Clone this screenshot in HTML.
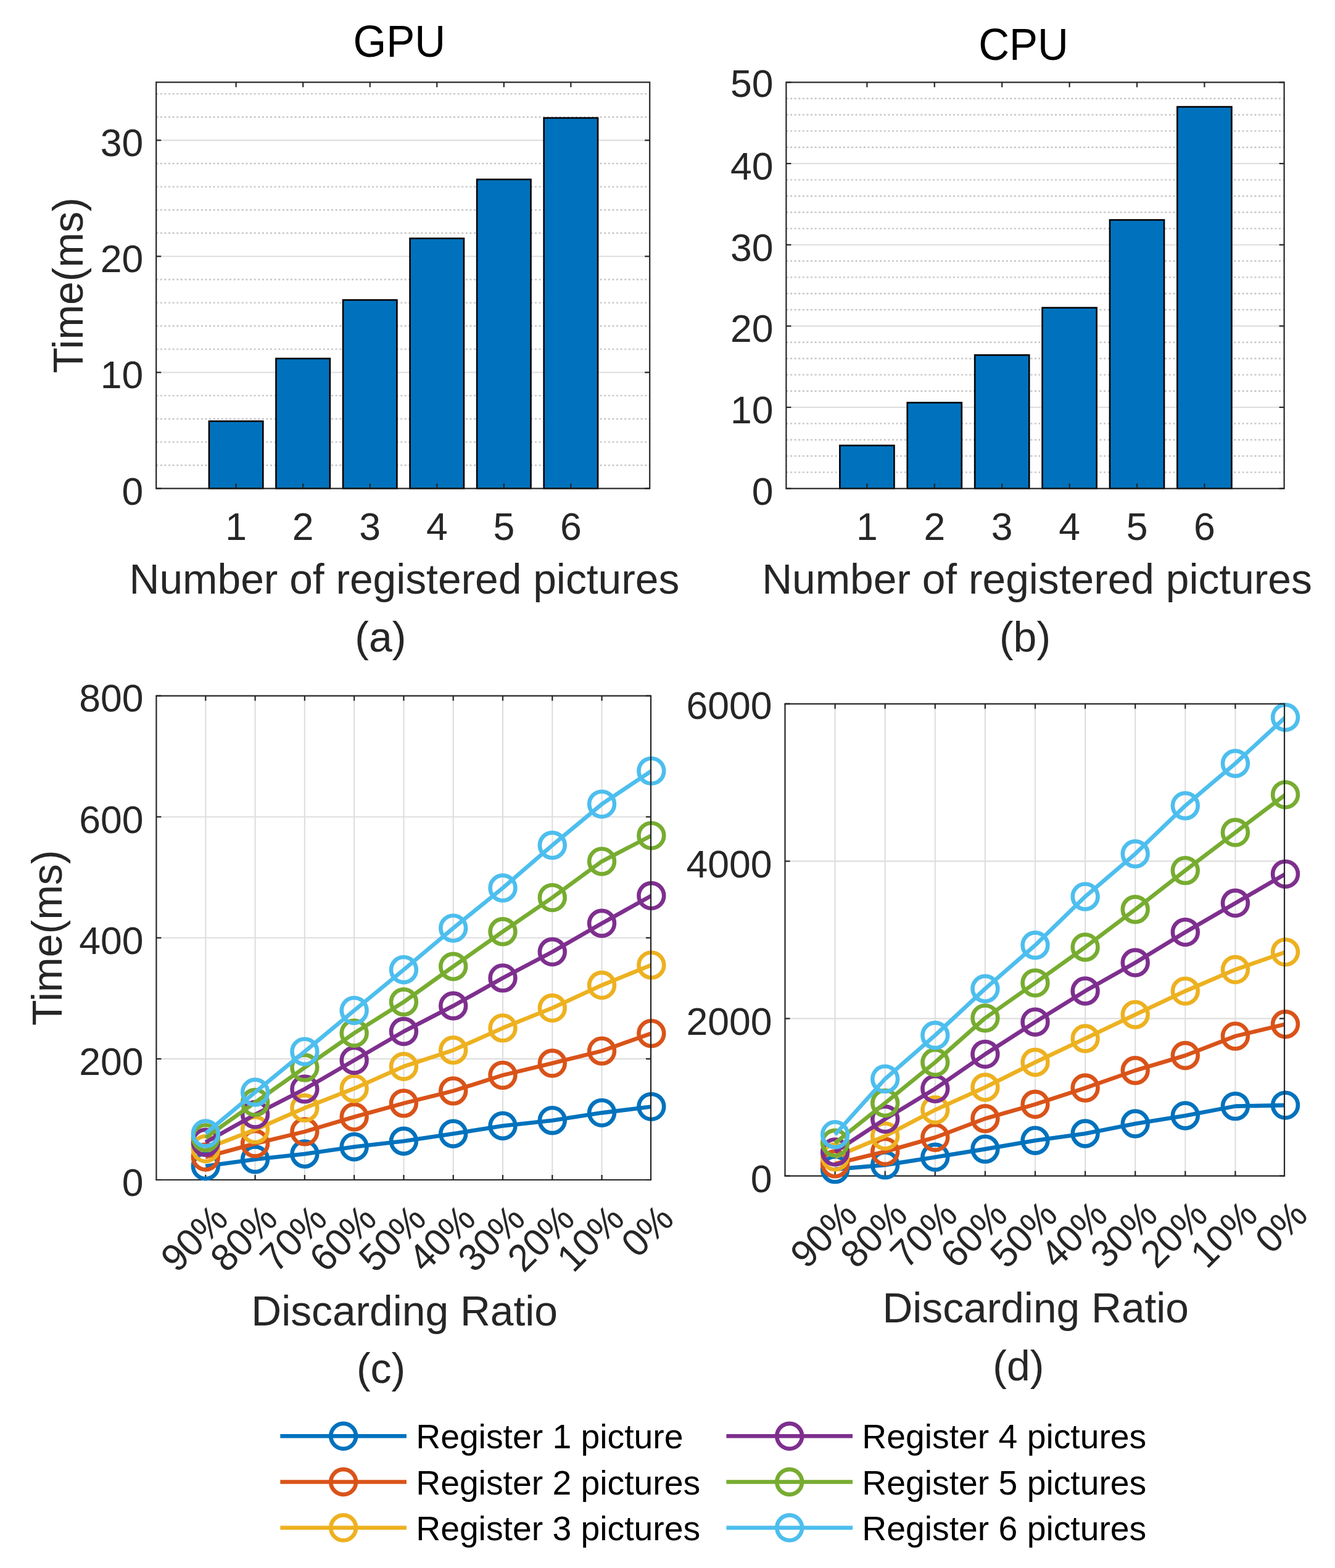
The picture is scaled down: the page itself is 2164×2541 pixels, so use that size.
<!DOCTYPE html>
<html><head><meta charset="utf-8"><title>Figure</title>
<style>
html,body{margin:0;padding:0;background:#fff;}
body{width:2164px;height:2541px;overflow:hidden;}
svg{display:block;}
text{font-family:'Liberation Sans', sans-serif;}
</style></head>
<body>
<svg width="2164" height="2541" viewBox="0 0 2164 2541">
<rect x="0" y="0" width="2164" height="2541" fill="#fff"/>
<line x1="253.2" y1="753.98" x2="1053.2" y2="753.98" stroke="#c6c6c6" stroke-width="2.4" stroke-dasharray="3 3.6"/>
<line x1="253.2" y1="716.37" x2="1053.2" y2="716.37" stroke="#c6c6c6" stroke-width="2.4" stroke-dasharray="3 3.6"/>
<line x1="253.2" y1="678.75" x2="1053.2" y2="678.75" stroke="#c6c6c6" stroke-width="2.4" stroke-dasharray="3 3.6"/>
<line x1="253.2" y1="641.13" x2="1053.2" y2="641.13" stroke="#c6c6c6" stroke-width="2.4" stroke-dasharray="3 3.6"/>
<line x1="253.2" y1="565.9" x2="1053.2" y2="565.9" stroke="#c6c6c6" stroke-width="2.4" stroke-dasharray="3 3.6"/>
<line x1="253.2" y1="528.28" x2="1053.2" y2="528.28" stroke="#c6c6c6" stroke-width="2.4" stroke-dasharray="3 3.6"/>
<line x1="253.2" y1="490.66" x2="1053.2" y2="490.66" stroke="#c6c6c6" stroke-width="2.4" stroke-dasharray="3 3.6"/>
<line x1="253.2" y1="453.05" x2="1053.2" y2="453.05" stroke="#c6c6c6" stroke-width="2.4" stroke-dasharray="3 3.6"/>
<line x1="253.2" y1="377.81" x2="1053.2" y2="377.81" stroke="#c6c6c6" stroke-width="2.4" stroke-dasharray="3 3.6"/>
<line x1="253.2" y1="340.19" x2="1053.2" y2="340.19" stroke="#c6c6c6" stroke-width="2.4" stroke-dasharray="3 3.6"/>
<line x1="253.2" y1="302.58" x2="1053.2" y2="302.58" stroke="#c6c6c6" stroke-width="2.4" stroke-dasharray="3 3.6"/>
<line x1="253.2" y1="264.96" x2="1053.2" y2="264.96" stroke="#c6c6c6" stroke-width="2.4" stroke-dasharray="3 3.6"/>
<line x1="253.2" y1="189.73" x2="1053.2" y2="189.73" stroke="#c6c6c6" stroke-width="2.4" stroke-dasharray="3 3.6"/>
<line x1="253.2" y1="152.11" x2="1053.2" y2="152.11" stroke="#c6c6c6" stroke-width="2.4" stroke-dasharray="3 3.6"/>
<line x1="253.2" y1="603.51" x2="1053.2" y2="603.51" stroke="#dedede" stroke-width="2.1"/>
<line x1="253.2" y1="415.43" x2="1053.2" y2="415.43" stroke="#dedede" stroke-width="2.1"/>
<line x1="253.2" y1="227.34" x2="1053.2" y2="227.34" stroke="#dedede" stroke-width="2.1"/>
<rect x="338.91" y="682.6" width="87.38" height="109" fill="#0072BD" stroke="#000" stroke-width="2.6"/>
<rect x="447.46" y="581" width="87.38" height="210.6" fill="#0072BD" stroke="#000" stroke-width="2.6"/>
<rect x="556.01" y="486.1" width="87.38" height="305.5" fill="#0072BD" stroke="#000" stroke-width="2.6"/>
<rect x="664.56" y="386.3" width="87.38" height="405.3" fill="#0072BD" stroke="#000" stroke-width="2.6"/>
<rect x="773.11" y="290.8" width="87.38" height="500.8" fill="#0072BD" stroke="#000" stroke-width="2.6"/>
<rect x="881.66" y="191.1" width="87.38" height="600.5" fill="#0072BD" stroke="#000" stroke-width="2.6"/>
<rect x="253.2" y="133.3" width="800" height="658.3" fill="none" stroke="#262626" stroke-width="2.2"/>
<line x1="382.6" y1="791.6" x2="382.6" y2="783.6" stroke="#262626" stroke-width="2.2"/>
<line x1="382.6" y1="133.3" x2="382.6" y2="141.3" stroke="#262626" stroke-width="2.2"/>
<line x1="491.15" y1="791.6" x2="491.15" y2="783.6" stroke="#262626" stroke-width="2.2"/>
<line x1="491.15" y1="133.3" x2="491.15" y2="141.3" stroke="#262626" stroke-width="2.2"/>
<line x1="599.7" y1="791.6" x2="599.7" y2="783.6" stroke="#262626" stroke-width="2.2"/>
<line x1="599.7" y1="133.3" x2="599.7" y2="141.3" stroke="#262626" stroke-width="2.2"/>
<line x1="708.25" y1="791.6" x2="708.25" y2="783.6" stroke="#262626" stroke-width="2.2"/>
<line x1="708.25" y1="133.3" x2="708.25" y2="141.3" stroke="#262626" stroke-width="2.2"/>
<line x1="816.8" y1="791.6" x2="816.8" y2="783.6" stroke="#262626" stroke-width="2.2"/>
<line x1="816.8" y1="133.3" x2="816.8" y2="141.3" stroke="#262626" stroke-width="2.2"/>
<line x1="925.35" y1="791.6" x2="925.35" y2="783.6" stroke="#262626" stroke-width="2.2"/>
<line x1="925.35" y1="133.3" x2="925.35" y2="141.3" stroke="#262626" stroke-width="2.2"/>
<line x1="253.2" y1="791.6" x2="261.2" y2="791.6" stroke="#262626" stroke-width="2.2"/>
<line x1="1053.2" y1="791.6" x2="1045.2" y2="791.6" stroke="#262626" stroke-width="2.2"/>
<line x1="253.2" y1="603.51" x2="261.2" y2="603.51" stroke="#262626" stroke-width="2.2"/>
<line x1="1053.2" y1="603.51" x2="1045.2" y2="603.51" stroke="#262626" stroke-width="2.2"/>
<line x1="253.2" y1="415.43" x2="261.2" y2="415.43" stroke="#262626" stroke-width="2.2"/>
<line x1="1053.2" y1="415.43" x2="1045.2" y2="415.43" stroke="#262626" stroke-width="2.2"/>
<line x1="253.2" y1="227.34" x2="261.2" y2="227.34" stroke="#262626" stroke-width="2.2"/>
<line x1="1053.2" y1="227.34" x2="1045.2" y2="227.34" stroke="#262626" stroke-width="2.2"/>
<text x="0" y="0" font-size="62.5" text-anchor="end" fill="#262626" transform="translate(232.2 817.5) scale(1 1.02)">0</text>
<text x="0" y="0" font-size="62.5" text-anchor="end" fill="#262626" transform="translate(232.2 629.41) scale(1 1.02)">10</text>
<text x="0" y="0" font-size="62.5" text-anchor="end" fill="#262626" transform="translate(232.2 441.33) scale(1 1.02)">20</text>
<text x="0" y="0" font-size="62.5" text-anchor="end" fill="#262626" transform="translate(232.2 253.24) scale(1 1.02)">30</text>
<text x="0" y="0" font-size="62.5" text-anchor="middle" fill="#262626" transform="translate(382.6 875) scale(1 1.02)">1</text>
<text x="0" y="0" font-size="62.5" text-anchor="middle" fill="#262626" transform="translate(491.15 875) scale(1 1.02)">2</text>
<text x="0" y="0" font-size="62.5" text-anchor="middle" fill="#262626" transform="translate(599.7 875) scale(1 1.02)">3</text>
<text x="0" y="0" font-size="62.5" text-anchor="middle" fill="#262626" transform="translate(708.25 875) scale(1 1.02)">4</text>
<text x="0" y="0" font-size="62.5" text-anchor="middle" fill="#262626" transform="translate(816.8 875) scale(1 1.02)">5</text>
<text x="0" y="0" font-size="62.5" text-anchor="middle" fill="#262626" transform="translate(925.35 875) scale(1 1.02)">6</text>
<text x="0" y="0" font-size="69" text-anchor="middle" fill="#000" transform="translate(647.3 91.7) scale(1 1.04)">GPU</text>
<text x="0" y="0" font-size="67.7" text-anchor="middle" fill="#262626" transform="translate(655.4 961.5) scale(1 1.02)">Number of registered pictures</text>
<text x="0" y="0" font-size="68" text-anchor="middle" fill="#262626" transform="translate(616.9 1055.5) scale(1 1.02)">(a)</text>
<text x="0" y="0" font-size="68" text-anchor="middle" fill="#262626" transform="translate(133.8 462.45) rotate(-90) scale(1 1.02)">Time(ms)</text>
<line x1="1274.4" y1="765.37" x2="2081.6" y2="765.37" stroke="#c6c6c6" stroke-width="2.4" stroke-dasharray="3 3.6"/>
<line x1="1274.4" y1="739.04" x2="2081.6" y2="739.04" stroke="#c6c6c6" stroke-width="2.4" stroke-dasharray="3 3.6"/>
<line x1="1274.4" y1="712.7" x2="2081.6" y2="712.7" stroke="#c6c6c6" stroke-width="2.4" stroke-dasharray="3 3.6"/>
<line x1="1274.4" y1="686.37" x2="2081.6" y2="686.37" stroke="#c6c6c6" stroke-width="2.4" stroke-dasharray="3 3.6"/>
<line x1="1274.4" y1="633.71" x2="2081.6" y2="633.71" stroke="#c6c6c6" stroke-width="2.4" stroke-dasharray="3 3.6"/>
<line x1="1274.4" y1="607.38" x2="2081.6" y2="607.38" stroke="#c6c6c6" stroke-width="2.4" stroke-dasharray="3 3.6"/>
<line x1="1274.4" y1="581.04" x2="2081.6" y2="581.04" stroke="#c6c6c6" stroke-width="2.4" stroke-dasharray="3 3.6"/>
<line x1="1274.4" y1="554.71" x2="2081.6" y2="554.71" stroke="#c6c6c6" stroke-width="2.4" stroke-dasharray="3 3.6"/>
<line x1="1274.4" y1="502.05" x2="2081.6" y2="502.05" stroke="#c6c6c6" stroke-width="2.4" stroke-dasharray="3 3.6"/>
<line x1="1274.4" y1="475.72" x2="2081.6" y2="475.72" stroke="#c6c6c6" stroke-width="2.4" stroke-dasharray="3 3.6"/>
<line x1="1274.4" y1="449.38" x2="2081.6" y2="449.38" stroke="#c6c6c6" stroke-width="2.4" stroke-dasharray="3 3.6"/>
<line x1="1274.4" y1="423.05" x2="2081.6" y2="423.05" stroke="#c6c6c6" stroke-width="2.4" stroke-dasharray="3 3.6"/>
<line x1="1274.4" y1="370.39" x2="2081.6" y2="370.39" stroke="#c6c6c6" stroke-width="2.4" stroke-dasharray="3 3.6"/>
<line x1="1274.4" y1="344.06" x2="2081.6" y2="344.06" stroke="#c6c6c6" stroke-width="2.4" stroke-dasharray="3 3.6"/>
<line x1="1274.4" y1="317.72" x2="2081.6" y2="317.72" stroke="#c6c6c6" stroke-width="2.4" stroke-dasharray="3 3.6"/>
<line x1="1274.4" y1="291.39" x2="2081.6" y2="291.39" stroke="#c6c6c6" stroke-width="2.4" stroke-dasharray="3 3.6"/>
<line x1="1274.4" y1="238.73" x2="2081.6" y2="238.73" stroke="#c6c6c6" stroke-width="2.4" stroke-dasharray="3 3.6"/>
<line x1="1274.4" y1="212.4" x2="2081.6" y2="212.4" stroke="#c6c6c6" stroke-width="2.4" stroke-dasharray="3 3.6"/>
<line x1="1274.4" y1="186.06" x2="2081.6" y2="186.06" stroke="#c6c6c6" stroke-width="2.4" stroke-dasharray="3 3.6"/>
<line x1="1274.4" y1="159.73" x2="2081.6" y2="159.73" stroke="#c6c6c6" stroke-width="2.4" stroke-dasharray="3 3.6"/>
<line x1="1274.4" y1="660.04" x2="2081.6" y2="660.04" stroke="#dedede" stroke-width="2.1"/>
<line x1="1274.4" y1="528.38" x2="2081.6" y2="528.38" stroke="#dedede" stroke-width="2.1"/>
<line x1="1274.4" y1="396.72" x2="2081.6" y2="396.72" stroke="#dedede" stroke-width="2.1"/>
<line x1="1274.4" y1="265.06" x2="2081.6" y2="265.06" stroke="#dedede" stroke-width="2.1"/>
<rect x="1361.37" y="721.9" width="88.07" height="69.8" fill="#0072BD" stroke="#000" stroke-width="2.6"/>
<rect x="1470.77" y="652.5" width="88.07" height="139.2" fill="#0072BD" stroke="#000" stroke-width="2.6"/>
<rect x="1580.17" y="575.4" width="88.07" height="216.3" fill="#0072BD" stroke="#000" stroke-width="2.6"/>
<rect x="1689.57" y="498.7" width="88.07" height="293" fill="#0072BD" stroke="#000" stroke-width="2.6"/>
<rect x="1798.97" y="356.4" width="88.07" height="435.3" fill="#0072BD" stroke="#000" stroke-width="2.6"/>
<rect x="1908.37" y="173.1" width="88.07" height="618.6" fill="#0072BD" stroke="#000" stroke-width="2.6"/>
<rect x="1274.4" y="133.4" width="807.2" height="658.3" fill="none" stroke="#262626" stroke-width="2.2"/>
<line x1="1405.4" y1="791.7" x2="1405.4" y2="783.7" stroke="#262626" stroke-width="2.2"/>
<line x1="1405.4" y1="133.4" x2="1405.4" y2="141.4" stroke="#262626" stroke-width="2.2"/>
<line x1="1514.8" y1="791.7" x2="1514.8" y2="783.7" stroke="#262626" stroke-width="2.2"/>
<line x1="1514.8" y1="133.4" x2="1514.8" y2="141.4" stroke="#262626" stroke-width="2.2"/>
<line x1="1624.2" y1="791.7" x2="1624.2" y2="783.7" stroke="#262626" stroke-width="2.2"/>
<line x1="1624.2" y1="133.4" x2="1624.2" y2="141.4" stroke="#262626" stroke-width="2.2"/>
<line x1="1733.6" y1="791.7" x2="1733.6" y2="783.7" stroke="#262626" stroke-width="2.2"/>
<line x1="1733.6" y1="133.4" x2="1733.6" y2="141.4" stroke="#262626" stroke-width="2.2"/>
<line x1="1843" y1="791.7" x2="1843" y2="783.7" stroke="#262626" stroke-width="2.2"/>
<line x1="1843" y1="133.4" x2="1843" y2="141.4" stroke="#262626" stroke-width="2.2"/>
<line x1="1952.4" y1="791.7" x2="1952.4" y2="783.7" stroke="#262626" stroke-width="2.2"/>
<line x1="1952.4" y1="133.4" x2="1952.4" y2="141.4" stroke="#262626" stroke-width="2.2"/>
<line x1="1274.4" y1="791.7" x2="1282.4" y2="791.7" stroke="#262626" stroke-width="2.2"/>
<line x1="2081.6" y1="791.7" x2="2073.6" y2="791.7" stroke="#262626" stroke-width="2.2"/>
<line x1="1274.4" y1="660.04" x2="1282.4" y2="660.04" stroke="#262626" stroke-width="2.2"/>
<line x1="2081.6" y1="660.04" x2="2073.6" y2="660.04" stroke="#262626" stroke-width="2.2"/>
<line x1="1274.4" y1="528.38" x2="1282.4" y2="528.38" stroke="#262626" stroke-width="2.2"/>
<line x1="2081.6" y1="528.38" x2="2073.6" y2="528.38" stroke="#262626" stroke-width="2.2"/>
<line x1="1274.4" y1="396.72" x2="1282.4" y2="396.72" stroke="#262626" stroke-width="2.2"/>
<line x1="2081.6" y1="396.72" x2="2073.6" y2="396.72" stroke="#262626" stroke-width="2.2"/>
<line x1="1274.4" y1="265.06" x2="1282.4" y2="265.06" stroke="#262626" stroke-width="2.2"/>
<line x1="2081.6" y1="265.06" x2="2073.6" y2="265.06" stroke="#262626" stroke-width="2.2"/>
<line x1="1274.4" y1="133.4" x2="1282.4" y2="133.4" stroke="#262626" stroke-width="2.2"/>
<line x1="2081.6" y1="133.4" x2="2073.6" y2="133.4" stroke="#262626" stroke-width="2.2"/>
<text x="0" y="0" font-size="62.5" text-anchor="end" fill="#262626" transform="translate(1253.4 817.6) scale(1 1.02)">0</text>
<text x="0" y="0" font-size="62.5" text-anchor="end" fill="#262626" transform="translate(1253.4 685.94) scale(1 1.02)">10</text>
<text x="0" y="0" font-size="62.5" text-anchor="end" fill="#262626" transform="translate(1253.4 554.28) scale(1 1.02)">20</text>
<text x="0" y="0" font-size="62.5" text-anchor="end" fill="#262626" transform="translate(1253.4 422.62) scale(1 1.02)">30</text>
<text x="0" y="0" font-size="62.5" text-anchor="end" fill="#262626" transform="translate(1253.4 290.96) scale(1 1.02)">40</text>
<text x="0" y="0" font-size="62.5" text-anchor="end" fill="#262626" transform="translate(1253.4 157) scale(1 1.02)">50</text>
<text x="0" y="0" font-size="62.5" text-anchor="middle" fill="#262626" transform="translate(1405.4 875) scale(1 1.02)">1</text>
<text x="0" y="0" font-size="62.5" text-anchor="middle" fill="#262626" transform="translate(1514.8 875) scale(1 1.02)">2</text>
<text x="0" y="0" font-size="62.5" text-anchor="middle" fill="#262626" transform="translate(1624.2 875) scale(1 1.02)">3</text>
<text x="0" y="0" font-size="62.5" text-anchor="middle" fill="#262626" transform="translate(1733.6 875) scale(1 1.02)">4</text>
<text x="0" y="0" font-size="62.5" text-anchor="middle" fill="#262626" transform="translate(1843 875) scale(1 1.02)">5</text>
<text x="0" y="0" font-size="62.5" text-anchor="middle" fill="#262626" transform="translate(1952.4 875) scale(1 1.02)">6</text>
<text x="0" y="0" font-size="69" text-anchor="middle" fill="#000" transform="translate(1659 96.7) scale(1 1.04)">CPU</text>
<text x="0" y="0" font-size="67.7" text-anchor="middle" fill="#262626" transform="translate(1681 962.2) scale(1 1.02)">Number of registered pictures</text>
<text x="0" y="0" font-size="68" text-anchor="middle" fill="#262626" transform="translate(1661.5 1056) scale(1 1.02)">(b)</text>
<line x1="333.3" y1="1127.6" x2="333.3" y2="1912" stroke="#dedede" stroke-width="2.1"/>
<line x1="413.58" y1="1127.6" x2="413.58" y2="1912" stroke="#dedede" stroke-width="2.1"/>
<line x1="493.86" y1="1127.6" x2="493.86" y2="1912" stroke="#dedede" stroke-width="2.1"/>
<line x1="574.14" y1="1127.6" x2="574.14" y2="1912" stroke="#dedede" stroke-width="2.1"/>
<line x1="654.42" y1="1127.6" x2="654.42" y2="1912" stroke="#dedede" stroke-width="2.1"/>
<line x1="734.7" y1="1127.6" x2="734.7" y2="1912" stroke="#dedede" stroke-width="2.1"/>
<line x1="814.98" y1="1127.6" x2="814.98" y2="1912" stroke="#dedede" stroke-width="2.1"/>
<line x1="895.26" y1="1127.6" x2="895.26" y2="1912" stroke="#dedede" stroke-width="2.1"/>
<line x1="975.54" y1="1127.6" x2="975.54" y2="1912" stroke="#dedede" stroke-width="2.1"/>
<line x1="253.4" y1="1715.9" x2="1055" y2="1715.9" stroke="#dedede" stroke-width="2.1"/>
<line x1="253.4" y1="1519.8" x2="1055" y2="1519.8" stroke="#dedede" stroke-width="2.1"/>
<line x1="253.4" y1="1323.7" x2="1055" y2="1323.7" stroke="#dedede" stroke-width="2.1"/>
<line x1="252.3" y1="1912" x2="1056.1" y2="1912" stroke="#262626" stroke-width="2.2"/>
<line x1="253.4" y1="1127.6" x2="253.4" y2="1912" stroke="#262626" stroke-width="2.2"/>
<line x1="333.3" y1="1912" x2="333.3" y2="1904" stroke="#262626" stroke-width="2.2"/>
<line x1="333.3" y1="1127.6" x2="333.3" y2="1135.6" stroke="#262626" stroke-width="2.2"/>
<line x1="413.58" y1="1912" x2="413.58" y2="1904" stroke="#262626" stroke-width="2.2"/>
<line x1="413.58" y1="1127.6" x2="413.58" y2="1135.6" stroke="#262626" stroke-width="2.2"/>
<line x1="493.86" y1="1912" x2="493.86" y2="1904" stroke="#262626" stroke-width="2.2"/>
<line x1="493.86" y1="1127.6" x2="493.86" y2="1135.6" stroke="#262626" stroke-width="2.2"/>
<line x1="574.14" y1="1912" x2="574.14" y2="1904" stroke="#262626" stroke-width="2.2"/>
<line x1="574.14" y1="1127.6" x2="574.14" y2="1135.6" stroke="#262626" stroke-width="2.2"/>
<line x1="654.42" y1="1912" x2="654.42" y2="1904" stroke="#262626" stroke-width="2.2"/>
<line x1="654.42" y1="1127.6" x2="654.42" y2="1135.6" stroke="#262626" stroke-width="2.2"/>
<line x1="734.7" y1="1912" x2="734.7" y2="1904" stroke="#262626" stroke-width="2.2"/>
<line x1="734.7" y1="1127.6" x2="734.7" y2="1135.6" stroke="#262626" stroke-width="2.2"/>
<line x1="814.98" y1="1912" x2="814.98" y2="1904" stroke="#262626" stroke-width="2.2"/>
<line x1="814.98" y1="1127.6" x2="814.98" y2="1135.6" stroke="#262626" stroke-width="2.2"/>
<line x1="895.26" y1="1912" x2="895.26" y2="1904" stroke="#262626" stroke-width="2.2"/>
<line x1="895.26" y1="1127.6" x2="895.26" y2="1135.6" stroke="#262626" stroke-width="2.2"/>
<line x1="975.54" y1="1912" x2="975.54" y2="1904" stroke="#262626" stroke-width="2.2"/>
<line x1="975.54" y1="1127.6" x2="975.54" y2="1135.6" stroke="#262626" stroke-width="2.2"/>
<line x1="253.4" y1="1912" x2="261.4" y2="1912" stroke="#262626" stroke-width="2.2"/>
<line x1="1055" y1="1912" x2="1047" y2="1912" stroke="#262626" stroke-width="2.2"/>
<line x1="253.4" y1="1715.9" x2="261.4" y2="1715.9" stroke="#262626" stroke-width="2.2"/>
<line x1="1055" y1="1715.9" x2="1047" y2="1715.9" stroke="#262626" stroke-width="2.2"/>
<line x1="253.4" y1="1519.8" x2="261.4" y2="1519.8" stroke="#262626" stroke-width="2.2"/>
<line x1="1055" y1="1519.8" x2="1047" y2="1519.8" stroke="#262626" stroke-width="2.2"/>
<line x1="253.4" y1="1323.7" x2="261.4" y2="1323.7" stroke="#262626" stroke-width="2.2"/>
<line x1="1055" y1="1323.7" x2="1047" y2="1323.7" stroke="#262626" stroke-width="2.2"/>
<line x1="253.4" y1="1127.6" x2="261.4" y2="1127.6" stroke="#262626" stroke-width="2.2"/>
<line x1="1055" y1="1127.6" x2="1047" y2="1127.6" stroke="#262626" stroke-width="2.2"/>
<defs><clipPath id="cc"><rect x="253.4" y="1127.6" width="801.6" height="784.4"/></clipPath></defs>
<polyline points="333.3,1889.74 413.58,1878.76 493.86,1870.03 574.14,1858.46 654.42,1849.25 734.7,1837.19 814.98,1824.44 895.26,1815.71 975.54,1803.36 1055.82,1793.36" fill="none" stroke="#0072BD" stroke-width="6.6" stroke-linejoin="round" clip-path="url(#cc)"/>
<circle cx="333.3" cy="1889.74" r="20.4" fill="none" stroke="#0072BD" stroke-width="6.6"/>
<circle cx="413.58" cy="1878.76" r="20.4" fill="none" stroke="#0072BD" stroke-width="6.6"/>
<circle cx="493.86" cy="1870.03" r="20.4" fill="none" stroke="#0072BD" stroke-width="6.6"/>
<circle cx="574.14" cy="1858.46" r="20.4" fill="none" stroke="#0072BD" stroke-width="6.6"/>
<circle cx="654.42" cy="1849.25" r="20.4" fill="none" stroke="#0072BD" stroke-width="6.6"/>
<circle cx="734.7" cy="1837.19" r="20.4" fill="none" stroke="#0072BD" stroke-width="6.6"/>
<circle cx="814.98" cy="1824.44" r="20.4" fill="none" stroke="#0072BD" stroke-width="6.6"/>
<circle cx="895.26" cy="1815.71" r="20.4" fill="none" stroke="#0072BD" stroke-width="6.6"/>
<circle cx="975.54" cy="1803.36" r="20.4" fill="none" stroke="#0072BD" stroke-width="6.6"/>
<circle cx="1055.82" cy="1793.36" r="20.4" fill="none" stroke="#0072BD" stroke-width="6.6"/>
<polyline points="333.3,1874.94 413.58,1853.27 493.86,1833.85 574.14,1810.03 654.42,1787.87 734.7,1767.87 814.98,1742.37 895.26,1723.06 975.54,1703.15 1055.82,1674.72" fill="none" stroke="#D95319" stroke-width="6.6" stroke-linejoin="round" clip-path="url(#cc)"/>
<circle cx="333.3" cy="1874.94" r="20.4" fill="none" stroke="#D95319" stroke-width="6.6"/>
<circle cx="413.58" cy="1853.27" r="20.4" fill="none" stroke="#D95319" stroke-width="6.6"/>
<circle cx="493.86" cy="1833.85" r="20.4" fill="none" stroke="#D95319" stroke-width="6.6"/>
<circle cx="574.14" cy="1810.03" r="20.4" fill="none" stroke="#D95319" stroke-width="6.6"/>
<circle cx="654.42" cy="1787.87" r="20.4" fill="none" stroke="#D95319" stroke-width="6.6"/>
<circle cx="734.7" cy="1767.87" r="20.4" fill="none" stroke="#D95319" stroke-width="6.6"/>
<circle cx="814.98" cy="1742.37" r="20.4" fill="none" stroke="#D95319" stroke-width="6.6"/>
<circle cx="895.26" cy="1723.06" r="20.4" fill="none" stroke="#D95319" stroke-width="6.6"/>
<circle cx="975.54" cy="1703.15" r="20.4" fill="none" stroke="#D95319" stroke-width="6.6"/>
<circle cx="1055.82" cy="1674.72" r="20.4" fill="none" stroke="#D95319" stroke-width="6.6"/>
<polyline points="333.3,1861.6 413.58,1830.62 493.86,1795.42 574.14,1763.94 654.42,1728.25 734.7,1701.78 814.98,1665.89 895.26,1633.54 975.54,1596.57 1055.82,1563.92" fill="none" stroke="#EDB120" stroke-width="6.6" stroke-linejoin="round" clip-path="url(#cc)"/>
<circle cx="333.3" cy="1861.6" r="20.4" fill="none" stroke="#EDB120" stroke-width="6.6"/>
<circle cx="413.58" cy="1830.62" r="20.4" fill="none" stroke="#EDB120" stroke-width="6.6"/>
<circle cx="493.86" cy="1795.42" r="20.4" fill="none" stroke="#EDB120" stroke-width="6.6"/>
<circle cx="574.14" cy="1763.94" r="20.4" fill="none" stroke="#EDB120" stroke-width="6.6"/>
<circle cx="654.42" cy="1728.25" r="20.4" fill="none" stroke="#EDB120" stroke-width="6.6"/>
<circle cx="734.7" cy="1701.78" r="20.4" fill="none" stroke="#EDB120" stroke-width="6.6"/>
<circle cx="814.98" cy="1665.89" r="20.4" fill="none" stroke="#EDB120" stroke-width="6.6"/>
<circle cx="895.26" cy="1633.54" r="20.4" fill="none" stroke="#EDB120" stroke-width="6.6"/>
<circle cx="975.54" cy="1596.57" r="20.4" fill="none" stroke="#EDB120" stroke-width="6.6"/>
<circle cx="1055.82" cy="1563.92" r="20.4" fill="none" stroke="#EDB120" stroke-width="6.6"/>
<polyline points="333.3,1851.21 413.58,1806.11 493.86,1764.92 574.14,1718.25 654.42,1671.48 734.7,1630.01 814.98,1584.91 895.26,1542.55 975.54,1496.27 1055.82,1451.56" fill="none" stroke="#7E2F8E" stroke-width="6.6" stroke-linejoin="round" clip-path="url(#cc)"/>
<circle cx="333.3" cy="1851.21" r="20.4" fill="none" stroke="#7E2F8E" stroke-width="6.6"/>
<circle cx="413.58" cy="1806.11" r="20.4" fill="none" stroke="#7E2F8E" stroke-width="6.6"/>
<circle cx="493.86" cy="1764.92" r="20.4" fill="none" stroke="#7E2F8E" stroke-width="6.6"/>
<circle cx="574.14" cy="1718.25" r="20.4" fill="none" stroke="#7E2F8E" stroke-width="6.6"/>
<circle cx="654.42" cy="1671.48" r="20.4" fill="none" stroke="#7E2F8E" stroke-width="6.6"/>
<circle cx="734.7" cy="1630.01" r="20.4" fill="none" stroke="#7E2F8E" stroke-width="6.6"/>
<circle cx="814.98" cy="1584.91" r="20.4" fill="none" stroke="#7E2F8E" stroke-width="6.6"/>
<circle cx="895.26" cy="1542.55" r="20.4" fill="none" stroke="#7E2F8E" stroke-width="6.6"/>
<circle cx="975.54" cy="1496.27" r="20.4" fill="none" stroke="#7E2F8E" stroke-width="6.6"/>
<circle cx="1055.82" cy="1451.56" r="20.4" fill="none" stroke="#7E2F8E" stroke-width="6.6"/>
<polyline points="333.3,1843.66 413.58,1786.5 493.86,1730.02 574.14,1674.23 654.42,1623.73 734.7,1566.28 814.98,1509.8 895.26,1454.6 975.54,1395.96 1055.82,1354.1" fill="none" stroke="#77AC30" stroke-width="6.6" stroke-linejoin="round" clip-path="url(#cc)"/>
<circle cx="333.3" cy="1843.66" r="20.4" fill="none" stroke="#77AC30" stroke-width="6.6"/>
<circle cx="413.58" cy="1786.5" r="20.4" fill="none" stroke="#77AC30" stroke-width="6.6"/>
<circle cx="493.86" cy="1730.02" r="20.4" fill="none" stroke="#77AC30" stroke-width="6.6"/>
<circle cx="574.14" cy="1674.23" r="20.4" fill="none" stroke="#77AC30" stroke-width="6.6"/>
<circle cx="654.42" cy="1623.73" r="20.4" fill="none" stroke="#77AC30" stroke-width="6.6"/>
<circle cx="734.7" cy="1566.28" r="20.4" fill="none" stroke="#77AC30" stroke-width="6.6"/>
<circle cx="814.98" cy="1509.8" r="20.4" fill="none" stroke="#77AC30" stroke-width="6.6"/>
<circle cx="895.26" cy="1454.6" r="20.4" fill="none" stroke="#77AC30" stroke-width="6.6"/>
<circle cx="975.54" cy="1395.96" r="20.4" fill="none" stroke="#77AC30" stroke-width="6.6"/>
<circle cx="1055.82" cy="1354.1" r="20.4" fill="none" stroke="#77AC30" stroke-width="6.6"/>
<polyline points="333.3,1836.89 413.58,1770.02 493.86,1704.13 574.14,1637.46 654.42,1571.47 734.7,1504.11 814.98,1439.01 895.26,1369.78 975.54,1303.11 1055.82,1249.38" fill="none" stroke="#4DBEEE" stroke-width="6.6" stroke-linejoin="round" clip-path="url(#cc)"/>
<circle cx="333.3" cy="1836.89" r="20.4" fill="none" stroke="#4DBEEE" stroke-width="6.6"/>
<circle cx="413.58" cy="1770.02" r="20.4" fill="none" stroke="#4DBEEE" stroke-width="6.6"/>
<circle cx="493.86" cy="1704.13" r="20.4" fill="none" stroke="#4DBEEE" stroke-width="6.6"/>
<circle cx="574.14" cy="1637.46" r="20.4" fill="none" stroke="#4DBEEE" stroke-width="6.6"/>
<circle cx="654.42" cy="1571.47" r="20.4" fill="none" stroke="#4DBEEE" stroke-width="6.6"/>
<circle cx="734.7" cy="1504.11" r="20.4" fill="none" stroke="#4DBEEE" stroke-width="6.6"/>
<circle cx="814.98" cy="1439.01" r="20.4" fill="none" stroke="#4DBEEE" stroke-width="6.6"/>
<circle cx="895.26" cy="1369.78" r="20.4" fill="none" stroke="#4DBEEE" stroke-width="6.6"/>
<circle cx="975.54" cy="1303.11" r="20.4" fill="none" stroke="#4DBEEE" stroke-width="6.6"/>
<circle cx="1055.82" cy="1249.38" r="20.4" fill="none" stroke="#4DBEEE" stroke-width="6.6"/>
<line x1="252.3" y1="1127.6" x2="1056.1" y2="1127.6" stroke="#262626" stroke-width="2.2"/>
<line x1="1055" y1="1127.6" x2="1055" y2="1912" stroke="#262626" stroke-width="2.2"/>
<text x="0" y="0" font-size="62.5" text-anchor="end" fill="#262626" transform="translate(232.4 1937.9) scale(1 1.02)">0</text>
<text x="0" y="0" font-size="62.5" text-anchor="end" fill="#262626" transform="translate(232.4 1741.8) scale(1 1.02)">200</text>
<text x="0" y="0" font-size="62.5" text-anchor="end" fill="#262626" transform="translate(232.4 1545.7) scale(1 1.02)">400</text>
<text x="0" y="0" font-size="62.5" text-anchor="end" fill="#262626" transform="translate(232.4 1349.6) scale(1 1.02)">600</text>
<text x="0" y="0" font-size="62.5" text-anchor="end" fill="#262626" transform="translate(232.4 1153.2) scale(1 1.02)">800</text>
<text x="0" y="0" font-size="60.5" text-anchor="end" fill="#262626" transform="translate(372.7 1978.7) rotate(-45) scale(1 1.03)">90%</text>
<text x="0" y="0" font-size="60.5" text-anchor="end" fill="#262626" transform="translate(452.98 1978.7) rotate(-45) scale(1 1.03)">80%</text>
<text x="0" y="0" font-size="60.5" text-anchor="end" fill="#262626" transform="translate(533.26 1978.7) rotate(-45) scale(1 1.03)">70%</text>
<text x="0" y="0" font-size="60.5" text-anchor="end" fill="#262626" transform="translate(613.54 1978.7) rotate(-45) scale(1 1.03)">60%</text>
<text x="0" y="0" font-size="60.5" text-anchor="end" fill="#262626" transform="translate(693.82 1978.7) rotate(-45) scale(1 1.03)">50%</text>
<text x="0" y="0" font-size="60.5" text-anchor="end" fill="#262626" transform="translate(774.1 1978.7) rotate(-45) scale(1 1.03)">40%</text>
<text x="0" y="0" font-size="60.5" text-anchor="end" fill="#262626" transform="translate(854.38 1978.7) rotate(-45) scale(1 1.03)">30%</text>
<text x="0" y="0" font-size="60.5" text-anchor="end" fill="#262626" transform="translate(934.66 1978.7) rotate(-45) scale(1 1.03)">20%</text>
<text x="0" y="0" font-size="60.5" text-anchor="end" fill="#262626" transform="translate(1014.94 1978.7) rotate(-45) scale(1 1.03)">10%</text>
<text x="0" y="0" font-size="60.5" text-anchor="end" fill="#262626" transform="translate(1095.22 1978.7) rotate(-45) scale(1 1.03)">0%</text>
<text x="0" y="0" font-size="67.7" text-anchor="middle" fill="#262626" transform="translate(655.6 2147.8) scale(1 1.02)">Discarding Ratio</text>
<text x="0" y="0" font-size="68" text-anchor="middle" fill="#262626" transform="translate(617.6 2241) scale(1 1.02)">(c)</text>
<text x="0" y="0" font-size="68" text-anchor="middle" fill="#262626" transform="translate(99.5 1519.8) rotate(-90) scale(1 1.02)">Time(ms)</text>
<line x1="1353.6" y1="1140.6" x2="1353.6" y2="1905.6" stroke="#dedede" stroke-width="2.1"/>
<line x1="1434.7" y1="1140.6" x2="1434.7" y2="1905.6" stroke="#dedede" stroke-width="2.1"/>
<line x1="1515.8" y1="1140.6" x2="1515.8" y2="1905.6" stroke="#dedede" stroke-width="2.1"/>
<line x1="1596.9" y1="1140.6" x2="1596.9" y2="1905.6" stroke="#dedede" stroke-width="2.1"/>
<line x1="1678" y1="1140.6" x2="1678" y2="1905.6" stroke="#dedede" stroke-width="2.1"/>
<line x1="1759.1" y1="1140.6" x2="1759.1" y2="1905.6" stroke="#dedede" stroke-width="2.1"/>
<line x1="1840.2" y1="1140.6" x2="1840.2" y2="1905.6" stroke="#dedede" stroke-width="2.1"/>
<line x1="1921.3" y1="1140.6" x2="1921.3" y2="1905.6" stroke="#dedede" stroke-width="2.1"/>
<line x1="2002.4" y1="1140.6" x2="2002.4" y2="1905.6" stroke="#dedede" stroke-width="2.1"/>
<line x1="1272.5" y1="1650.6" x2="2082" y2="1650.6" stroke="#dedede" stroke-width="2.1"/>
<line x1="1272.5" y1="1395.6" x2="2082" y2="1395.6" stroke="#dedede" stroke-width="2.1"/>
<line x1="1271.4" y1="1905.6" x2="2083.1" y2="1905.6" stroke="#262626" stroke-width="2.2"/>
<line x1="1272.5" y1="1140.6" x2="1272.5" y2="1905.6" stroke="#262626" stroke-width="2.2"/>
<line x1="1353.6" y1="1905.6" x2="1353.6" y2="1897.6" stroke="#262626" stroke-width="2.2"/>
<line x1="1353.6" y1="1140.6" x2="1353.6" y2="1148.6" stroke="#262626" stroke-width="2.2"/>
<line x1="1434.7" y1="1905.6" x2="1434.7" y2="1897.6" stroke="#262626" stroke-width="2.2"/>
<line x1="1434.7" y1="1140.6" x2="1434.7" y2="1148.6" stroke="#262626" stroke-width="2.2"/>
<line x1="1515.8" y1="1905.6" x2="1515.8" y2="1897.6" stroke="#262626" stroke-width="2.2"/>
<line x1="1515.8" y1="1140.6" x2="1515.8" y2="1148.6" stroke="#262626" stroke-width="2.2"/>
<line x1="1596.9" y1="1905.6" x2="1596.9" y2="1897.6" stroke="#262626" stroke-width="2.2"/>
<line x1="1596.9" y1="1140.6" x2="1596.9" y2="1148.6" stroke="#262626" stroke-width="2.2"/>
<line x1="1678" y1="1905.6" x2="1678" y2="1897.6" stroke="#262626" stroke-width="2.2"/>
<line x1="1678" y1="1140.6" x2="1678" y2="1148.6" stroke="#262626" stroke-width="2.2"/>
<line x1="1759.1" y1="1905.6" x2="1759.1" y2="1897.6" stroke="#262626" stroke-width="2.2"/>
<line x1="1759.1" y1="1140.6" x2="1759.1" y2="1148.6" stroke="#262626" stroke-width="2.2"/>
<line x1="1840.2" y1="1905.6" x2="1840.2" y2="1897.6" stroke="#262626" stroke-width="2.2"/>
<line x1="1840.2" y1="1140.6" x2="1840.2" y2="1148.6" stroke="#262626" stroke-width="2.2"/>
<line x1="1921.3" y1="1905.6" x2="1921.3" y2="1897.6" stroke="#262626" stroke-width="2.2"/>
<line x1="1921.3" y1="1140.6" x2="1921.3" y2="1148.6" stroke="#262626" stroke-width="2.2"/>
<line x1="2002.4" y1="1905.6" x2="2002.4" y2="1897.6" stroke="#262626" stroke-width="2.2"/>
<line x1="2002.4" y1="1140.6" x2="2002.4" y2="1148.6" stroke="#262626" stroke-width="2.2"/>
<line x1="1272.5" y1="1905.6" x2="1280.5" y2="1905.6" stroke="#262626" stroke-width="2.2"/>
<line x1="2082" y1="1905.6" x2="2074" y2="1905.6" stroke="#262626" stroke-width="2.2"/>
<line x1="1272.5" y1="1650.6" x2="1280.5" y2="1650.6" stroke="#262626" stroke-width="2.2"/>
<line x1="2082" y1="1650.6" x2="2074" y2="1650.6" stroke="#262626" stroke-width="2.2"/>
<line x1="1272.5" y1="1395.6" x2="1280.5" y2="1395.6" stroke="#262626" stroke-width="2.2"/>
<line x1="2082" y1="1395.6" x2="2074" y2="1395.6" stroke="#262626" stroke-width="2.2"/>
<line x1="1272.5" y1="1140.6" x2="1280.5" y2="1140.6" stroke="#262626" stroke-width="2.2"/>
<line x1="2082" y1="1140.6" x2="2074" y2="1140.6" stroke="#262626" stroke-width="2.2"/>
<defs><clipPath id="cd"><rect x="1272.5" y="1140.6" width="809.5" height="765"/></clipPath></defs>
<polyline points="1353.6,1894.89 1434.7,1887.88 1515.8,1875.25 1596.9,1862.12 1678,1848.22 1759.1,1837 1840.2,1821.07 1921.3,1807.93 2002.4,1792.63 2083.5,1791.11" fill="none" stroke="#0072BD" stroke-width="6.6" stroke-linejoin="round" clip-path="url(#cd)"/>
<circle cx="1353.6" cy="1894.89" r="20.4" fill="none" stroke="#0072BD" stroke-width="6.6"/>
<circle cx="1434.7" cy="1887.88" r="20.4" fill="none" stroke="#0072BD" stroke-width="6.6"/>
<circle cx="1515.8" cy="1875.25" r="20.4" fill="none" stroke="#0072BD" stroke-width="6.6"/>
<circle cx="1596.9" cy="1862.12" r="20.4" fill="none" stroke="#0072BD" stroke-width="6.6"/>
<circle cx="1678" cy="1848.22" r="20.4" fill="none" stroke="#0072BD" stroke-width="6.6"/>
<circle cx="1759.1" cy="1837" r="20.4" fill="none" stroke="#0072BD" stroke-width="6.6"/>
<circle cx="1840.2" cy="1821.07" r="20.4" fill="none" stroke="#0072BD" stroke-width="6.6"/>
<circle cx="1921.3" cy="1807.93" r="20.4" fill="none" stroke="#0072BD" stroke-width="6.6"/>
<circle cx="2002.4" cy="1792.63" r="20.4" fill="none" stroke="#0072BD" stroke-width="6.6"/>
<circle cx="2083.5" cy="1791.11" r="20.4" fill="none" stroke="#0072BD" stroke-width="6.6"/>
<polyline points="1353.6,1885.96 1434.7,1866.2 1515.8,1843.25 1596.9,1812.78 1678,1789.57 1759.1,1763.05 1840.2,1734.75 1921.3,1710.52 2002.4,1679.16 2083.5,1659.78" fill="none" stroke="#D95319" stroke-width="6.6" stroke-linejoin="round" clip-path="url(#cd)"/>
<circle cx="1353.6" cy="1885.96" r="20.4" fill="none" stroke="#D95319" stroke-width="6.6"/>
<circle cx="1434.7" cy="1866.2" r="20.4" fill="none" stroke="#D95319" stroke-width="6.6"/>
<circle cx="1515.8" cy="1843.25" r="20.4" fill="none" stroke="#D95319" stroke-width="6.6"/>
<circle cx="1596.9" cy="1812.78" r="20.4" fill="none" stroke="#D95319" stroke-width="6.6"/>
<circle cx="1678" cy="1789.57" r="20.4" fill="none" stroke="#D95319" stroke-width="6.6"/>
<circle cx="1759.1" cy="1763.05" r="20.4" fill="none" stroke="#D95319" stroke-width="6.6"/>
<circle cx="1840.2" cy="1734.75" r="20.4" fill="none" stroke="#D95319" stroke-width="6.6"/>
<circle cx="1921.3" cy="1710.52" r="20.4" fill="none" stroke="#D95319" stroke-width="6.6"/>
<circle cx="2002.4" cy="1679.16" r="20.4" fill="none" stroke="#D95319" stroke-width="6.6"/>
<circle cx="2083.5" cy="1659.78" r="20.4" fill="none" stroke="#D95319" stroke-width="6.6"/>
<polyline points="1353.6,1874.87 1434.7,1840.96 1515.8,1798.63 1596.9,1762.03 1678,1721.49 1759.1,1682.98 1840.2,1644.22 1921.3,1606.1 2002.4,1571.29 2083.5,1542.86" fill="none" stroke="#EDB120" stroke-width="6.6" stroke-linejoin="round" clip-path="url(#cd)"/>
<circle cx="1353.6" cy="1874.87" r="20.4" fill="none" stroke="#EDB120" stroke-width="6.6"/>
<circle cx="1434.7" cy="1840.96" r="20.4" fill="none" stroke="#EDB120" stroke-width="6.6"/>
<circle cx="1515.8" cy="1798.63" r="20.4" fill="none" stroke="#EDB120" stroke-width="6.6"/>
<circle cx="1596.9" cy="1762.03" r="20.4" fill="none" stroke="#EDB120" stroke-width="6.6"/>
<circle cx="1678" cy="1721.49" r="20.4" fill="none" stroke="#EDB120" stroke-width="6.6"/>
<circle cx="1759.1" cy="1682.98" r="20.4" fill="none" stroke="#EDB120" stroke-width="6.6"/>
<circle cx="1840.2" cy="1644.22" r="20.4" fill="none" stroke="#EDB120" stroke-width="6.6"/>
<circle cx="1921.3" cy="1606.1" r="20.4" fill="none" stroke="#EDB120" stroke-width="6.6"/>
<circle cx="2002.4" cy="1571.29" r="20.4" fill="none" stroke="#EDB120" stroke-width="6.6"/>
<circle cx="2083.5" cy="1542.86" r="20.4" fill="none" stroke="#EDB120" stroke-width="6.6"/>
<polyline points="1353.6,1866.84 1434.7,1813.54 1515.8,1764.33 1596.9,1708.36 1678,1656.21 1759.1,1605.97 1840.2,1560.07 1921.3,1510.61 2002.4,1463.56 2083.5,1416.38" fill="none" stroke="#7E2F8E" stroke-width="6.6" stroke-linejoin="round" clip-path="url(#cd)"/>
<circle cx="1353.6" cy="1866.84" r="20.4" fill="none" stroke="#7E2F8E" stroke-width="6.6"/>
<circle cx="1434.7" cy="1813.54" r="20.4" fill="none" stroke="#7E2F8E" stroke-width="6.6"/>
<circle cx="1515.8" cy="1764.33" r="20.4" fill="none" stroke="#7E2F8E" stroke-width="6.6"/>
<circle cx="1596.9" cy="1708.36" r="20.4" fill="none" stroke="#7E2F8E" stroke-width="6.6"/>
<circle cx="1678" cy="1656.21" r="20.4" fill="none" stroke="#7E2F8E" stroke-width="6.6"/>
<circle cx="1759.1" cy="1605.97" r="20.4" fill="none" stroke="#7E2F8E" stroke-width="6.6"/>
<circle cx="1840.2" cy="1560.07" r="20.4" fill="none" stroke="#7E2F8E" stroke-width="6.6"/>
<circle cx="1921.3" cy="1510.61" r="20.4" fill="none" stroke="#7E2F8E" stroke-width="6.6"/>
<circle cx="2002.4" cy="1463.56" r="20.4" fill="none" stroke="#7E2F8E" stroke-width="6.6"/>
<circle cx="2083.5" cy="1416.38" r="20.4" fill="none" stroke="#7E2F8E" stroke-width="6.6"/>
<polyline points="1353.6,1852.3 1434.7,1787.53 1515.8,1721.49 1596.9,1649.84 1678,1592.84 1759.1,1534.96 1840.2,1473.76 1921.3,1410.64 2002.4,1349.06 2083.5,1287.86" fill="none" stroke="#77AC30" stroke-width="6.6" stroke-linejoin="round" clip-path="url(#cd)"/>
<circle cx="1353.6" cy="1852.3" r="20.4" fill="none" stroke="#77AC30" stroke-width="6.6"/>
<circle cx="1434.7" cy="1787.53" r="20.4" fill="none" stroke="#77AC30" stroke-width="6.6"/>
<circle cx="1515.8" cy="1721.49" r="20.4" fill="none" stroke="#77AC30" stroke-width="6.6"/>
<circle cx="1596.9" cy="1649.84" r="20.4" fill="none" stroke="#77AC30" stroke-width="6.6"/>
<circle cx="1678" cy="1592.84" r="20.4" fill="none" stroke="#77AC30" stroke-width="6.6"/>
<circle cx="1759.1" cy="1534.96" r="20.4" fill="none" stroke="#77AC30" stroke-width="6.6"/>
<circle cx="1840.2" cy="1473.76" r="20.4" fill="none" stroke="#77AC30" stroke-width="6.6"/>
<circle cx="1921.3" cy="1410.64" r="20.4" fill="none" stroke="#77AC30" stroke-width="6.6"/>
<circle cx="2002.4" cy="1349.06" r="20.4" fill="none" stroke="#77AC30" stroke-width="6.6"/>
<circle cx="2083.5" cy="1287.86" r="20.4" fill="none" stroke="#77AC30" stroke-width="6.6"/>
<polyline points="1353.6,1838.66 1434.7,1748.39 1515.8,1677.76 1596.9,1602.28 1678,1531.77 1759.1,1452.97 1840.2,1383.74 1921.3,1305.71 2002.4,1237.24 2083.5,1162.53" fill="none" stroke="#4DBEEE" stroke-width="6.6" stroke-linejoin="round" clip-path="url(#cd)"/>
<circle cx="1353.6" cy="1838.66" r="20.4" fill="none" stroke="#4DBEEE" stroke-width="6.6"/>
<circle cx="1434.7" cy="1748.39" r="20.4" fill="none" stroke="#4DBEEE" stroke-width="6.6"/>
<circle cx="1515.8" cy="1677.76" r="20.4" fill="none" stroke="#4DBEEE" stroke-width="6.6"/>
<circle cx="1596.9" cy="1602.28" r="20.4" fill="none" stroke="#4DBEEE" stroke-width="6.6"/>
<circle cx="1678" cy="1531.77" r="20.4" fill="none" stroke="#4DBEEE" stroke-width="6.6"/>
<circle cx="1759.1" cy="1452.97" r="20.4" fill="none" stroke="#4DBEEE" stroke-width="6.6"/>
<circle cx="1840.2" cy="1383.74" r="20.4" fill="none" stroke="#4DBEEE" stroke-width="6.6"/>
<circle cx="1921.3" cy="1305.71" r="20.4" fill="none" stroke="#4DBEEE" stroke-width="6.6"/>
<circle cx="2002.4" cy="1237.24" r="20.4" fill="none" stroke="#4DBEEE" stroke-width="6.6"/>
<circle cx="2083.5" cy="1162.53" r="20.4" fill="none" stroke="#4DBEEE" stroke-width="6.6"/>
<line x1="1271.4" y1="1140.6" x2="2083.1" y2="1140.6" stroke="#262626" stroke-width="2.2"/>
<line x1="2082" y1="1140.6" x2="2082" y2="1905.6" stroke="#262626" stroke-width="2.2"/>
<text x="0" y="0" font-size="62.5" text-anchor="end" fill="#262626" transform="translate(1251.5 1931.5) scale(1 1.02)">0</text>
<text x="0" y="0" font-size="62.5" text-anchor="end" fill="#262626" transform="translate(1251.5 1676.5) scale(1 1.02)">2000</text>
<text x="0" y="0" font-size="62.5" text-anchor="end" fill="#262626" transform="translate(1251.5 1421.5) scale(1 1.02)">4000</text>
<text x="0" y="0" font-size="62.5" text-anchor="end" fill="#262626" transform="translate(1251.5 1165.2) scale(1 1.02)">6000</text>
<text x="0" y="0" font-size="60.5" text-anchor="end" fill="#262626" transform="translate(1393 1972.3) rotate(-45) scale(1 1.03)">90%</text>
<text x="0" y="0" font-size="60.5" text-anchor="end" fill="#262626" transform="translate(1474.1 1972.3) rotate(-45) scale(1 1.03)">80%</text>
<text x="0" y="0" font-size="60.5" text-anchor="end" fill="#262626" transform="translate(1555.2 1972.3) rotate(-45) scale(1 1.03)">70%</text>
<text x="0" y="0" font-size="60.5" text-anchor="end" fill="#262626" transform="translate(1636.3 1972.3) rotate(-45) scale(1 1.03)">60%</text>
<text x="0" y="0" font-size="60.5" text-anchor="end" fill="#262626" transform="translate(1717.4 1972.3) rotate(-45) scale(1 1.03)">50%</text>
<text x="0" y="0" font-size="60.5" text-anchor="end" fill="#262626" transform="translate(1798.5 1972.3) rotate(-45) scale(1 1.03)">40%</text>
<text x="0" y="0" font-size="60.5" text-anchor="end" fill="#262626" transform="translate(1879.6 1972.3) rotate(-45) scale(1 1.03)">30%</text>
<text x="0" y="0" font-size="60.5" text-anchor="end" fill="#262626" transform="translate(1960.7 1972.3) rotate(-45) scale(1 1.03)">20%</text>
<text x="0" y="0" font-size="60.5" text-anchor="end" fill="#262626" transform="translate(2041.8 1972.3) rotate(-45) scale(1 1.03)">10%</text>
<text x="0" y="0" font-size="60.5" text-anchor="end" fill="#262626" transform="translate(2122.9 1972.3) rotate(-45) scale(1 1.03)">0%</text>
<text x="0" y="0" font-size="67.7" text-anchor="middle" fill="#262626" transform="translate(1678.7 2143.3) scale(1 1.02)">Discarding Ratio</text>
<text x="0" y="0" font-size="68" text-anchor="middle" fill="#262626" transform="translate(1650.8 2237) scale(1 1.02)">(d)</text>
<line x1="454.3" y1="2327.3" x2="658.9" y2="2327.3" stroke="#0072BD" stroke-width="6.6"/>
<circle cx="556.6" cy="2327.3" r="20.4" fill="none" stroke="#0072BD" stroke-width="6.6"/>
<text x="0" y="0" font-size="55.3" text-anchor="start" fill="#000" transform="translate(674.2 2347.3) scale(1 1.02)">Register 1 picture</text>
<line x1="454.3" y1="2401.5" x2="658.9" y2="2401.5" stroke="#D95319" stroke-width="6.6"/>
<circle cx="556.6" cy="2401.5" r="20.4" fill="none" stroke="#D95319" stroke-width="6.6"/>
<text x="0" y="0" font-size="55.3" text-anchor="start" fill="#000" transform="translate(674.2 2421.5) scale(1 1.02)">Register 2 pictures</text>
<line x1="454.3" y1="2475.8" x2="658.9" y2="2475.8" stroke="#EDB120" stroke-width="6.6"/>
<circle cx="556.6" cy="2475.8" r="20.4" fill="none" stroke="#EDB120" stroke-width="6.6"/>
<text x="0" y="0" font-size="55.3" text-anchor="start" fill="#000" transform="translate(674.2 2495.8) scale(1 1.02)">Register 3 pictures</text>
<line x1="1177.4" y1="2327.3" x2="1382" y2="2327.3" stroke="#7E2F8E" stroke-width="6.6"/>
<circle cx="1279.7" cy="2327.3" r="20.4" fill="none" stroke="#7E2F8E" stroke-width="6.6"/>
<text x="0" y="0" font-size="55.3" text-anchor="start" fill="#000" transform="translate(1397.3 2347.3) scale(1 1.02)">Register 4 pictures</text>
<line x1="1177.4" y1="2401.5" x2="1382" y2="2401.5" stroke="#77AC30" stroke-width="6.6"/>
<circle cx="1279.7" cy="2401.5" r="20.4" fill="none" stroke="#77AC30" stroke-width="6.6"/>
<text x="0" y="0" font-size="55.3" text-anchor="start" fill="#000" transform="translate(1397.3 2421.5) scale(1 1.02)">Register 5 pictures</text>
<line x1="1177.4" y1="2475.8" x2="1382" y2="2475.8" stroke="#4DBEEE" stroke-width="6.6"/>
<circle cx="1279.7" cy="2475.8" r="20.4" fill="none" stroke="#4DBEEE" stroke-width="6.6"/>
<text x="0" y="0" font-size="55.3" text-anchor="start" fill="#000" transform="translate(1397.3 2495.8) scale(1 1.02)">Register 6 pictures</text>
</svg>
</body></html>
